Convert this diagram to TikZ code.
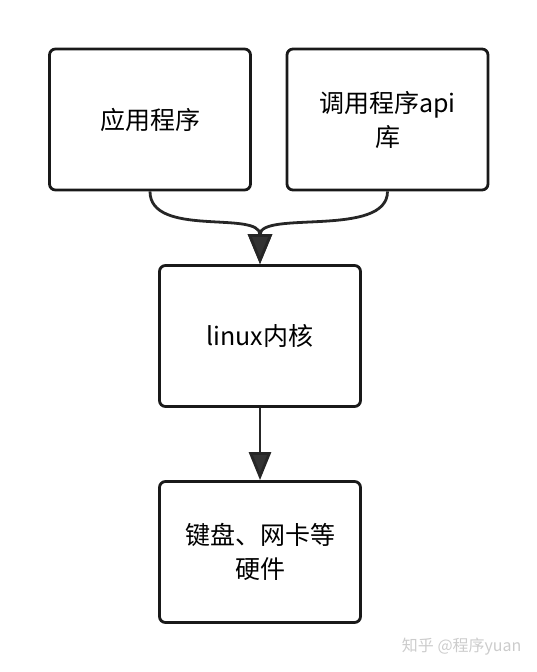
\documentclass[tikz,border=0pt]{standalone}
\usepackage{fontspec}
\setmainfont{Noto Sans CJK SC}
\usetikzlibrary{arrows.meta}
\tikzset{
  box/.style={draw=black!90, line width=2.8pt, rounded corners=6pt, minimum width=201pt,
    minimum height=141pt, align=center, font=\fontsize{25}{34}\selectfont},
  link/.style={draw=black!85, line width=2.8pt, -{Triangle[length=30pt,width=24pt,fill=black!80]}}
}
\begin{document}
\begin{tikzpicture}[x=1pt,y=-1pt]
      \useasboundingbox (0,0) rectangle (536,672);

        \node[box] (app) at (150,119.5) {应用程序};
        \node[box] (api) at (387.5,119.5) {调用程序api\\库};
        \node[box] (kernel) at (260,336) {linux内核};
        \node[box] (hw) at (260,552) {键盘、网卡等\\硬件};

        \draw[link] (app.south) .. controls (150,238) and (260,210) .. (kernel.north);
        \draw[link] (api.south) .. controls (387.5,238) and (260,210) .. (kernel.north);
        \draw[link, -{Triangle[length=28pt,width=22pt,fill=black!80]}] (kernel.south) -- (hw.north);

        \node[text=gray!40, font=\fontsize{16}{18}\selectfont, anchor=east] (watermark) at (525,647) {知乎 @程序yuan};

    \end{tikzpicture}
\end{document}
